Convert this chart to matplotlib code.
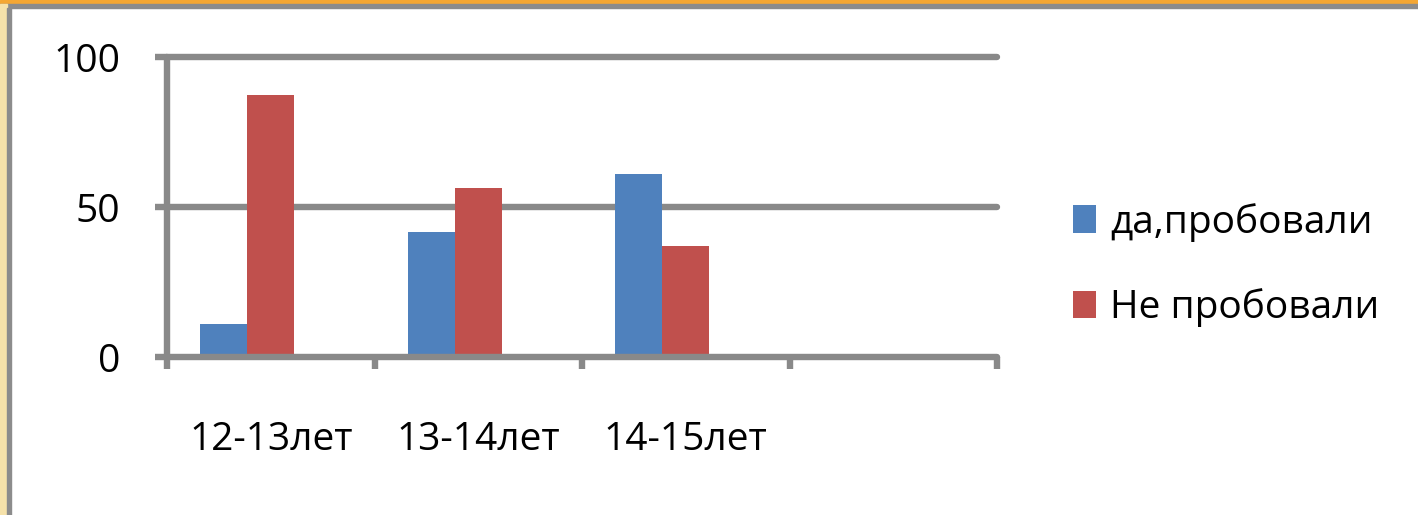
import numpy as np
import matplotlib
matplotlib.use("Agg")
import matplotlib.pyplot as plt
from matplotlib.patches import Rectangle

# data
categories = ["12-13лет", "13-14лет", "14-15лет", ""]
tried = [11, 41.7, 61, np.nan]
not_tried = [87.3, 56.3, 37, np.nan]
series_names = ["да,пробовали", "Не пробовали"]
yticks = [0, 50, 100]

plt.rcParams['font.family'] = ['Open Sans', 'DejaVu Sans']

W, H = 1418, 515
fig = plt.figure(figsize=(W / 100, H / 100), dpi=100)
fig.patch.set_facecolor("white")

# slide-style frame: orange strip on top, cream strip on the left, gray edge
fig.add_artist(Rectangle((0, 1 - 4 / H), 1, 4 / H, transform=fig.transFigure,
                         color="#F5A733", zorder=0))
fig.add_artist(Rectangle((0, 1 - 8 / H), 1, 4 / H, transform=fig.transFigure,
                         color="#8C8C8C", zorder=0))
fig.add_artist(Rectangle((0, 0), 7 / W, 1 - 4 / H, transform=fig.transFigure,
                         color="#F6E2AA", zorder=0))
fig.add_artist(Rectangle((7 / W, 0), 4 / W, 1 - 8 / H, transform=fig.transFigure,
                         color="#8C8C8C", zorder=0))

ax = fig.add_axes([167 / W, 158 / H, 830 / W, 300 / H])
ax.set_facecolor("none")

gray = "#898989"
lw = 4.6
bw = 47 / 207.5
gap = 33 / 207.5
x = np.arange(len(categories))
ax.bar(x + gap, tried, width=bw, align="edge", color="#4F81BD", label=series_names[0], zorder=3)
ax.bar(x + gap + bw, not_tried, width=bw, align="edge", color="#C0504D", label=series_names[1], zorder=3)

ax.set_xlim(0, len(categories))
ax.set_ylim(0, 100)

for side in ["top", "right", "bottom"]:
    ax.spines[side].set_visible(False)
ax.spines["left"].set_color(gray)
ax.spines["left"].set_linewidth(lw)
ax.spines["left"].set_capstyle("round")

for v in yticks:
    ax.axhline(v, color=gray, lw=lw, solid_capstyle="round", zorder=2 if v else 4, clip_on=False)

ax.set_yticks(yticks)
ax.set_yticklabels([str(v) for v in yticks], fontsize=28)
ax.tick_params(axis="y", length=8.6, width=lw, color=gray, pad=25)

ax.set_xticks(np.arange(len(categories) + 1))
ax.set_xticklabels([])
ax.tick_params(axis="x", which="major", length=8.6, width=lw, color=gray)
ax.set_xticks(x + 0.5, minor=True)
ax.set_xticklabels(categories, minor=True, fontsize=28)
ax.tick_params(axis="x", which="minor", length=0, pad=46)

fig.legend(loc="center left", bbox_to_anchor=(1073 / W, 250 / H), frameon=False,
           fontsize=28, handlelength=0.6, handleheight=0.7, handletextpad=0.36,
           labelspacing=1.2, borderpad=0, borderaxespad=0)

fig.savefig("out.png", dpi=100)
